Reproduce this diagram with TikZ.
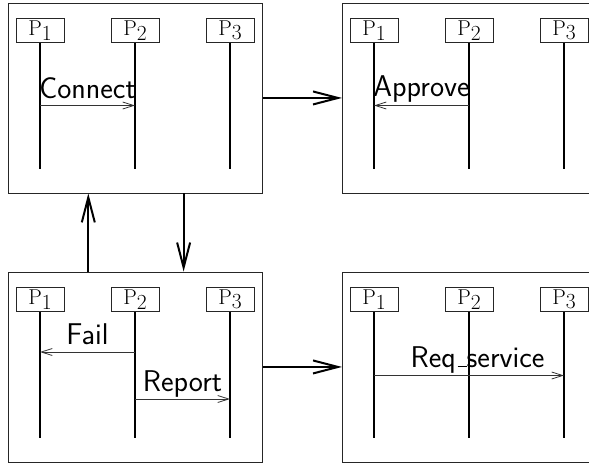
\documentclass[tikz,border=0pt]{standalone}
\usetikzlibrary{arrows.meta,calc}

% One sequence panel: frame node #1 with its north-west corner at (#2,#3),
% three process boxes and their lifelines.
\newcommand\seqpanel[3]{%
  \node[frame, anchor=north west] (#1) at (#2,#3) {};
  \foreach \i/\dx in {1/32,2/127,3/222} {
    \node[proc] (#1-p\i) at ($(#1.north west)+(\dx,28)$) {P\raisebox{-4.5pt}{\i}};
    \coordinate (#1-e\i) at ($(#1.north west)+(\dx,166)$);
    \draw[life] (#1-p\i) -- (#1-e\i);
  }%
}
% short underscore rule sitting on the baseline
\newcommand\lowbar{\kern.06em\vbox{\hrule width .3em height 1.3pt}}

\begin{document}
\begin{tikzpicture}[x=1pt,y=-1pt,
  frame/.style={draw=black!85, line width=0.9pt, minimum width=254pt,
    minimum height=190pt, inner sep=0pt},
  proc/.style={draw=black!85, line width=0.8pt, minimum width=48pt,
    minimum height=24pt, inner sep=0pt, font=\fontsize{21.5}{21.5}\selectfont},
  life/.style={line width=2.2pt},
  msg/.style={draw=black!80, line width=0.8pt,
    -{Straight Barb[length=11pt,width=7pt,line width=0.8pt]}},
  flow/.style={line width=2pt,
    -{Straight Barb[length=25pt,width=13pt,line width=2pt]}},
  lbl/.style={font=\sffamily\fontsize{30}{30}\selectfont, inner sep=0pt,
    anchor=base, yshift=7.5pt, text=black}
]
\useasboundingbox (0,0) rectangle (589,466);
\clip (0,0) rectangle (589,466);

% the four panels
\seqpanel{tl}{8}{2.5}
\seqpanel{tr}{342}{2.5}
\seqpanel{bl}{8}{271.5}
\seqpanel{br}{342}{271.5}

% message end points on the lifelines
\coordinate (con-a) at ($(tl-p1)+(0,75)$);
\coordinate (con-b) at ($(tl-p2)+(0,75)$);
\coordinate (app-a) at ($(tr-p2)+(0,75)$);
\coordinate (app-b) at ($(tr-p1)+(0,75)$);
\coordinate (fail-a) at ($(bl-p2)+(0,52.5)$);
\coordinate (fail-b) at ($(bl-p1)+(0,52.5)$);
\coordinate (rep-a) at ($(bl-p2)+(0,99.5)$);
\coordinate (rep-b) at ($(bl-p3)+(0,99.5)$);
\coordinate (req-a) at ($(br-p1)+(0,76)$);
\coordinate (req-b) at ($(br-p3)+(0,76)$);

% messages
\draw[msg] (con-a) -- (con-b) node[lbl, midway] {Connect};
\draw[msg] (app-a) -- (app-b) node[lbl, midway, yshift=1.5pt] {Approve};
\draw[msg] (fail-a) -- (fail-b) node[lbl, midway] {Fail};
\draw[msg] (rep-a) -- (rep-b) node[lbl, midway] {Report};
\draw[msg] (req-a) -- (req-b) node[lbl, midway, xshift=8.5pt, yshift=1pt] {Req\lowbar service};

% transitions between panels
\coordinate (up-s) at ($(bl.north west)!0.315!(bl.north east)$);
\coordinate (up-t) at ($(tl.south west)!0.315!(tl.south east)$);
\coordinate (dn-s) at ($(tl.south west)!0.689!(tl.south east)$);
\coordinate (dn-t) at ($(bl.north west)!0.689!(bl.north east)$);
\draw[flow] (tl.east) -- (tr.west);
\draw[flow] (bl.east) -- (br.west);
\draw[flow] (up-s) -- (up-t);
\draw[flow] (dn-s) -- (dn-t);
\end{tikzpicture}
\end{document}
